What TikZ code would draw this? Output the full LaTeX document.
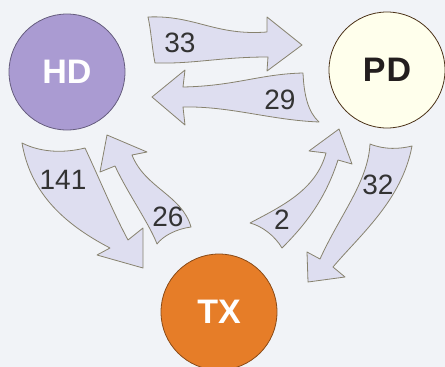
\documentclass[tikz,border=0pt]{standalone}
\usepackage{fontspec}
\setmainfont{Liberation Sans}
\definecolor{bg}{RGB}{241,243,247}
\definecolor{arrfill}{RGB}{222,222,240}
\definecolor{arrline}{RGB}{135,130,110}
\definecolor{hdfill}{RGB}{170,155,210}
\definecolor{pdfill}{RGB}{255,255,236}
\definecolor{txfill}{RGB}{230,125,40}
\definecolor{pdtext}{RGB}{35,30,30}
\tikzset{
  ribbon/.style={fill=arrfill, draw=arrline, line width=0.8pt, line join=round},
  numlabel/.style={font=\fontsize{28}{28}\selectfont, text=black!80},
  bubble/.style={circle, minimum size=116pt, inner sep=0pt, line width=0.8pt},
  bubtext/.style={font=\fontsize{34}{34}\selectfont\bfseries},
}
\begin{document}
\begin{tikzpicture}[x=1pt,y=-1pt]
\fill[bg] (0,0) rectangle (445,367);
\useasboundingbox (0,0) rectangle (445,367);
% circles
\node[bubble, fill=hdfill, draw=hdfill!60!black] (HD) at (67,72) {};
\node[bubble, fill=pdfill, draw=black!60!brown] (PD) at (387,70) {};
\node[bubble, fill=txfill, draw=txfill!60!black] (TX) at (219,312) {};
\node[bubtext, text=white] (HDt) at (HD) {HD};
\node[bubtext, text=pdtext] (PDt) at (PD) {P\kern1pt D};
\node[bubtext, text=white] (TXt) at (TX) {TX};
% 33 : HD -> PD
\draw[ribbon] (148,17) .. controls (195,15) and (215,36) .. (267,32) -- (267,17) -- (302,45) -- (267,71) -- (268,57)
  .. controls (220,57) and (195,64) .. (155,63) .. controls (152,48) and (151,30) .. cycle;
% 29 : PD -> HD
\draw[ribbon] (152,97) -- (185,70) -- (183,87) .. controls (235,86) and (260,74) .. (303,73)
  .. controls (304,95) and (308,112) .. (319,122) .. controls (270,120) and (230,106) .. (183,107)
  -- (185,125) -- cycle;
% 141 : HD -> TX
\draw[ribbon] (22,143) .. controls (42,153) and (65,153) .. (85,148) .. controls (100,180) and (112,210) .. (128,240)
  -- (143,228) -- (143,268) -- (97,255) -- (110,248) .. controls (60,222) and (30,190) .. cycle;
% 26 : TX -> HD
\draw[ribbon] (107,135) -- (147,152) -- (132,155) .. controls (145,188) and (182,195) .. (191,227)
  .. controls (176,229) and (163,236) .. (157,244) .. controls (150,225) and (127,192) .. (115,166)
  -- (100,172) -- cycle;
% 2 : TX -> PD
\draw[ribbon] (339,129) -- (352,164) -- (338,160) .. controls (325,200) and (305,225) .. (282,248)
  .. controls (275,236) and (262,226) .. (250,223) .. controls (282,206) and (316,190) .. (326,153)
  -- (309,151) -- cycle;
% 32 : PD -> TX
\draw[ribbon] (370,144) .. controls (385,150) and (400,149) .. (412,146) .. controls (402,200) and (360,235) .. (333,267)
  -- (345,277) -- (308,282) -- (307,252) -- (320,259) .. controls (340,215) and (368,182) .. cycle;
% labels
\node[numlabel] (l33) at (180,43) {33};
\node[numlabel] (l29) at (280,100) {29};
\node[numlabel] (l141) at (63,180) {141};
\node[numlabel] (l26) at (168,217) {26};
\node[numlabel] (l2) at (282,220) {2};
\node[numlabel] (l32) at (378,185) {32};
\end{tikzpicture}
\end{document}
